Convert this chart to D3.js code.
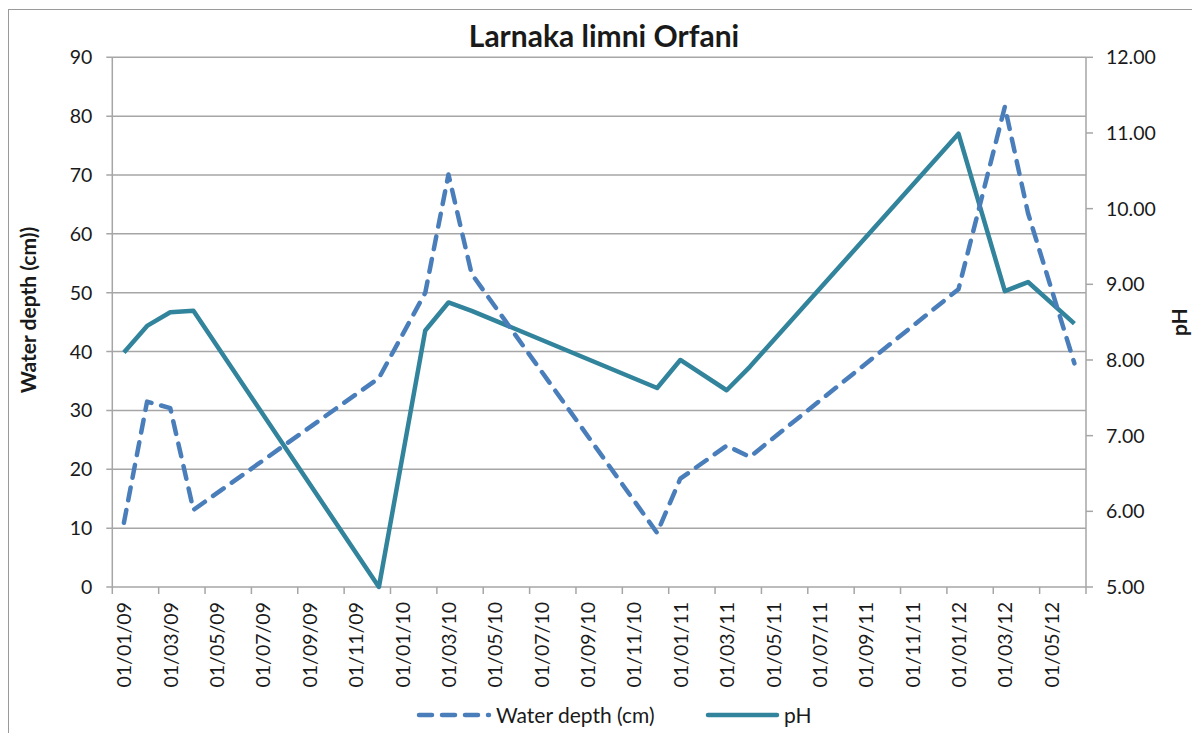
<!DOCTYPE html>
<html>
<head>
    <meta charset="utf-8">
    <title>Larnaka limni Orfani</title>
    <script src="https://cdn.jsdelivr.net/npm/d3@7"></script>
    <style>
        body { margin: 0; background: white; }
        text { font-family: Lato, "Open Sans", sans-serif; fill: #1a1a1a; }
        .tick-label { font-size: 19.5px; }
        .legend-label { font-size: 21px; }
        .axis-title { font-size: 21px; font-weight: bold; }
        .title { font-size: 30px; font-weight: bold; }
        .grid line, .axis-line { stroke: #a6a6a6; stroke-width: 1.5; }
    </style>
</head>
<body>
<div id="chart"></div>
<script>
    // Sampling dates (month of sample) and measured values
    const sampleMonths = ["2009-01", "2009-02", "2009-03", "2009-04", "2009-12",
        "2010-02", "2010-03", "2010-04", "2010-12", "2011-01", "2011-03", "2011-04",
        "2012-01", "2012-03", "2012-04", "2012-06"];
    const waterDepth = [10.9, 31.5, 30.4, 13.1, 35.5, 50.0, 70.1, 53.2, 9.2, 18.4,
        24.0, 22.1, 50.6, 81.6, 63.5, 38.0];
    const phValues = [8.10, 8.45, 8.63, 8.65, 5.00, 8.39, 8.76, 8.65, 7.63, 8.00,
        7.60, 7.91, 10.99, 8.91, 9.03, 8.48];

    const depthTicks = [0, 10, 20, 30, 40, 50, 60, 70, 80, 90];
    const phTicks = [5, 6, 7, 8, 9, 10, 11, 12];

    const margin = {top: 57.3, right: 106, bottom: 146, left: 112.3};
    const W = 1192, H = 733;
    const width = W - margin.left - margin.right;
    const height = H - margin.top - margin.bottom;

    const svgRoot = d3.select("#chart").append("svg")
        .attr("width", W)
        .attr("height", H);

    // chart area border (cropped on right/bottom like the original)
    svgRoot.append("rect")
        .attr("x", 8.5).attr("y", 9.5)
        .attr("width", 1200).attr("height", 760)
        .attr("fill", "none")
        .attr("stroke", "#9a9a9a")
        .attr("stroke-width", 1);

    const svg = svgRoot.append("g")
        .attr("transform", `translate(${margin.left},${margin.top})`);

    // Month based x axis, Jan 2009 to Jun 2012
    const parseMonth = d3.timeParse("%Y-%m");
    const fmtKey = d3.timeFormat("%Y-%m");
    const fmtLabel = d3.timeFormat("%d/%m/%y");
    const months = d3.timeMonth.range(new Date(2009, 0, 1), new Date(2012, 6, 1));

    const x = d3.scaleBand()
        .domain(months.map(fmtKey))
        .range([0, width])
        .paddingInner(0).paddingOuter(0);

    const yL = d3.scaleLinear().domain([0, 90]).range([height, 0]);
    const yR = d3.scaleLinear().domain([5, 12]).range([height, 0]);

    const cx = m => x(m) + x.bandwidth() / 2;

    // horizontal gridlines from left axis
    svg.append("g")
        .attr("class", "grid")
        .selectAll("line")
        .data(depthTicks)
        .join("line")
        .attr("x1", -6).attr("x2", width)
        .attr("y1", d => yL(d)).attr("y2", d => yL(d));

    // axis lines
    svg.append("line").attr("class", "axis-line")
        .attr("x1", 0).attr("x2", 0).attr("y1", 0).attr("y2", height);
    svg.append("line").attr("class", "axis-line")
        .attr("x1", width).attr("x2", width).attr("y1", 0).attr("y2", height);

    // left labels
    svg.append("g").selectAll("text")
        .data(depthTicks)
        .join("text")
        .attr("class", "tick-label")
        .attr("x", -20)
        .attr("y", d => yL(d))
        .attr("dy", "0.36em")
        .attr("text-anchor", "end")
        .text(d => d);

    // right axis ticks + labels
    svg.append("g").selectAll("line")
        .data(phTicks)
        .join("line")
        .attr("class", "axis-line")
        .attr("x1", width).attr("x2", width + 7)
        .attr("y1", d => yR(d)).attr("y2", d => yR(d));

    svg.append("g").selectAll("text")
        .data(phTicks)
        .join("text")
        .attr("class", "tick-label")
        .attr("x", width + 20)
        .attr("y", d => yR(d))
        .attr("dy", "0.36em")
        .text(d => d.toFixed(2));

    // x ticks every 2 months at month boundaries
    const tickMonths = months.filter((d, i) => i % 2 === 0).map(fmtKey);
    const tickPos = tickMonths.map(m => x(m)).concat([width]);
    svg.append("g").selectAll("line")
        .data(tickPos)
        .join("line")
        .attr("class", "axis-line")
        .attr("x1", d => d).attr("x2", d => d)
        .attr("y1", height).attr("y2", height + 7);

    svg.append("g").selectAll("text")
        .data(tickMonths)
        .join("text")
        .attr("class", "tick-label")
        .attr("transform", m => `translate(${cx(m)},${height}) rotate(-90)`)
        .attr("x", -15)
        .attr("y", 7.5)
        .attr("text-anchor", "end")
        .text(m => fmtLabel(parseMonth(m)));

    const rows = sampleMonths.map((m, i) => ({m, depth: waterDepth[i], ph: phValues[i]}));

    // pH line
    svg.append("path")
        .datum(rows)
        .attr("fill", "none")
        .attr("stroke", "#31849b")
        .attr("stroke-width", 4.5)
        .attr("stroke-linejoin", "round")
        .attr("d", d3.line().x(d => cx(d.m)).y(d => yR(d.ph)));

    // water depth line
    svg.append("path")
        .datum(rows)
        .attr("fill", "none")
        .attr("stroke", "#4a7ebb")
        .attr("stroke-width", 4.5)
        .attr("stroke-linecap", "round")
        .attr("stroke-linejoin", "round")
        .attr("stroke-dasharray", "13 10")
        .attr("d", d3.line().x(d => cx(d.m)).y(d => yL(d.depth)));

    // titles
    svgRoot.append("text")
        .attr("class", "title")
        .attr("x", 604).attr("y", 47)
        .attr("text-anchor", "middle")
        .text("Larnaka limni Orfani");

    svgRoot.append("text")
        .attr("class", "axis-title")
        .attr("transform", "translate(36,310) rotate(-90)")
        .attr("text-anchor", "middle")
        .text("Water depth (cm))");

    svgRoot.append("text")
        .attr("class", "axis-title")
        .attr("transform", `translate(1187,${margin.top + height / 2}) rotate(-90)`)
        .attr("text-anchor", "middle")
        .text("pH");

    // legend
    const legend = svgRoot.append("g").attr("transform", "translate(0,715)");
    legend.append("line")
        .attr("x1", 419).attr("x2", 489).attr("y1", 0).attr("y2", 0)
        .attr("stroke", "#4a7ebb").attr("stroke-width", 4.5)
        .attr("stroke-linecap", "round").attr("stroke-dasharray", "13 10");
    legend.append("text").attr("class", "legend-label")
        .attr("x", 496).attr("y", 0).attr("dy", "0.36em")
        .text("Water depth (cm)");
    legend.append("line")
        .attr("x1", 708).attr("x2", 777).attr("y1", 0).attr("y2", 0)
        .attr("stroke", "#31849b").attr("stroke-width", 4.5)
        .attr("stroke-linecap", "round");
    legend.append("text").attr("class", "legend-label")
        .attr("x", 784).attr("y", 0).attr("dy", "0.36em")
        .text("pH");
</script>
</body>
</html>
